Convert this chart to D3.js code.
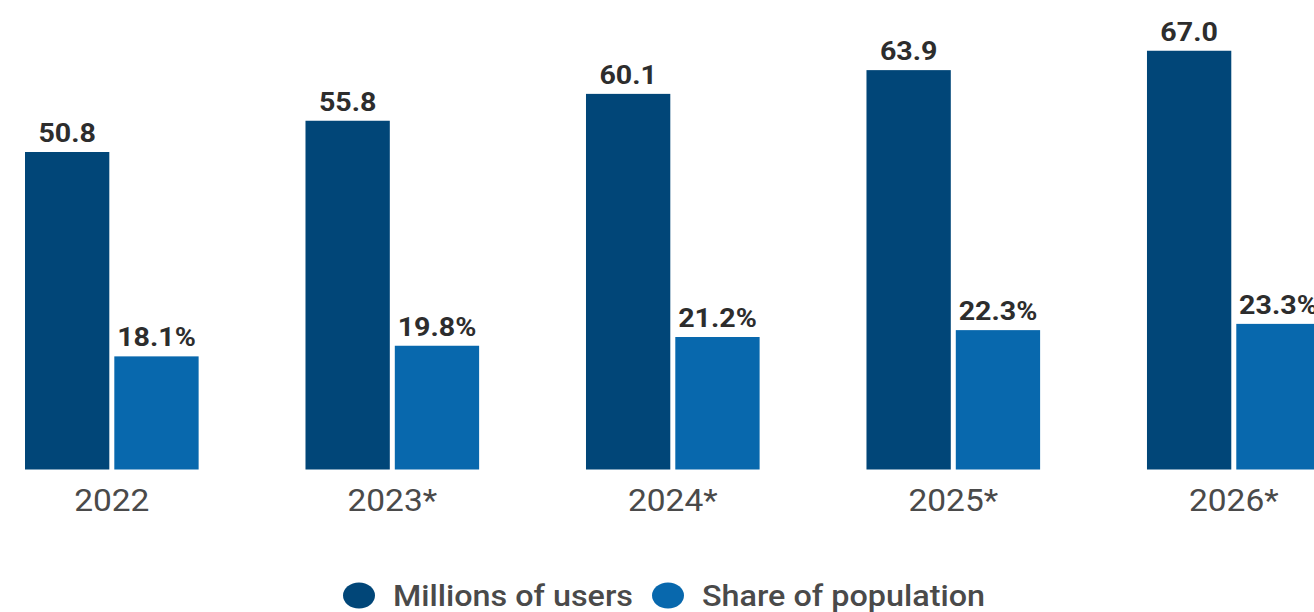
<!DOCTYPE html>
<html>
<head>
<meta charset="utf-8">
<script src="https://cdn.jsdelivr.net/npm/d3@7"></script>
<style>
  html, body { margin: 0; padding: 0; background: #ffffff; }
  svg { display: block; font-family: Roboto, "Noto Sans", sans-serif; }
</style>
</head>
<body>
<svg id="chart" width="1314" height="612"></svg>
<script>
// Years shown on the x axis (* = forecast)
const years = ["2022", "2023*", "2024*", "2025*", "2026*"];
// Users in millions
const users = [50.8, 55.8, 60.1, 63.9, 67.0];
// Share of the population, in percent
const share = [18.1, 19.8, 21.2, 22.3, 23.3];
const seriesNames = ["Millions of users", "Share of population"];
const seriesKeys = ["users", "share"];
const colors = ["#014678", "#0868ad"];

const rows = years.map((y, i) => ({ year: y, users: users[i], share: share[i] }));

const svg = d3.select("#chart");
const baseY = 469.5;

const x = d3.scaleBand()
  .domain(years)
  .range([25, 1320.6])
  .paddingInner(0.381)
  .paddingOuter(0);

const xSub = d3.scaleBand()
  .domain(seriesKeys)
  .range([0, x.bandwidth()])
  .paddingInner(0.056)
  .paddingOuter(0);

// Both series share one value scale
const y = d3.scaleLinear()
  .domain([0, 70])
  .range([baseY, baseY - 6.25 * 70]);

const color = d3.scaleOrdinal().domain(seriesKeys).range(colors);

const fmt = {
  users: v => d3.format(".1f")(v),
  share: v => d3.format(".1f")(v) + "%"
};

const groups = svg.append("g")
  .selectAll("g")
  .data(rows)
  .join("g")
  .attr("transform", d => `translate(${x(d.year)},0)`);

groups.selectAll("rect")
  .data(d => seriesKeys.map(k => ({ key: k, value: d[k] })))
  .join("rect")
  .attr("x", d => xSub(d.key))
  .attr("width", xSub.bandwidth())
  .attr("y", d => y(d.value))
  .attr("height", d => y(0) - y(d.value))
  .attr("fill", d => color(d.key));

groups.selectAll("text.value")
  .data(d => seriesKeys.map(k => ({ key: k, value: d[k] })))
  .join("text")
  .attr("class", "value")
  .attr("transform", d => `translate(${xSub(d.key) + xSub.bandwidth() / 2},${y(d.value) - 10}) scale(1.1,1)`)
  .attr("text-anchor", "middle")
  .attr("font-size", 26)
  .attr("font-weight", 700)
  .attr("fill", "#2d2d2d")
  .text(d => fmt[d.key](d.value));

// Category axis (labels only)
const xAxis = svg.append("g")
  .attr("transform", `translate(0,${baseY})`)
  .call(d3.axisBottom(x).tickSize(0).tickPadding(0));
xAxis.select(".domain").remove();
xAxis.selectAll("text")
  .attr("font-size", 31)
  .attr("font-family", "Roboto, sans-serif")
  .attr("fill", "#4a4a4a")
  .attr("dy", 0)
  .attr("y", 42)
  .attr("transform", "scale(1.08,1)");

// Legend
const legendItems = [
  { name: seriesNames[0], key: "users", x: 359, w: 240 },
  { name: seriesNames[1], key: "share", x: 668, w: 283 }
];
const legend = svg.append("g").attr("transform", "translate(0,595.5)");
const li = legend.selectAll("g")
  .data(legendItems)
  .join("g")
  .attr("transform", d => `translate(${d.x},0)`);
li.append("ellipse")
  .attr("rx", 16)
  .attr("ry", 13)
  .attr("fill", d => color(d.key));
li.append("text")
  .attr("x", 34)
  .attr("y", 10.5)
  .attr("font-size", 30)
  .attr("font-weight", 500)
  .attr("fill", "#4a4a4a")
  .attr("textLength", d => d.w)
  .attr("lengthAdjust", "spacingAndGlyphs")
  .text(d => d.name);
</script>
</body>
</html>
